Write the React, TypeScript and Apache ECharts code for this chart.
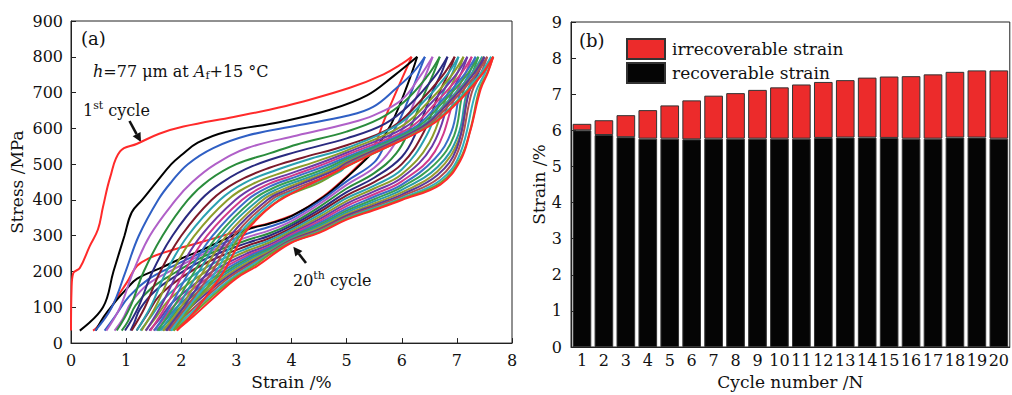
import React, { useEffect, useRef } from 'react';
import * as echarts from 'echarts';

// ---------- Panel (b) data ----------
const cycleLabels = ['1','2','3','4','5','6','7','8','9','10','11','12','13','14','15','16','17','18','19','20'];
const recoverableStrain = [6.00,5.87,5.81,5.77,5.77,5.75,5.77,5.77,5.77,5.77,5.77,5.79,5.80,5.80,5.79,5.77,5.77,5.80,5.80,5.77];
const irrecoverableStrain = [0.18,0.41,0.61,0.79,0.92,1.08,1.19,1.26,1.35,1.42,1.50,1.55,1.59,1.66,1.70,1.73,1.78,1.82,1.86,1.89];

// ---------- Panel (a) data: stress-strain loops, [strain %, stress MPa] ----------
const cycleColors = ['#ff2a2a','#000000','#2f5fc4','#b060c8','#2a8c3c','#2a2a80','#7d1a2a','#2aa0b0','#8c9c2a','#6a3aa8','#d03a8a','#3a70c8','#3aa050','#2a9aa8','#9a9a30','#5a3a9a','#b05050','#30b0c0','#70a030','#ff2a2a'];

const loadingBranches = [
  [[0,35],[0.01,150],[0.04,195],[0.16,210],[0.34,271],[0.49,318],[0.58,380],[0.71,463],[0.89,536],[1.2,557],[1.6,585],[2.04,605],[2.95,632],[3.6,652],[4.16,673],[5.07,714],[5.67,751],[6.0,780],[6.18,800]],
  [[0.16,35],[0.58,100],[0.77,200],[0.97,300],[1.1,365],[1.29,400],[1.55,450],[1.82,500],[2.0,525],[2.3,560],[2.8,590],[3.8,618],[4.7,652],[5.37,692],[5.85,746],[6.28,800]],
  [[0.44,35],[0.74,100],[0.99,200],[1.23,300],[1.58,400],[1.82,450],[2.12,500],[2.58,545],[3.2,580],[4.1,608],[5.01,635],[5.48,660],[5.9,712],[6.2,755],[6.42,800]],
  [[0.64,35],[0.89,100],[1.13,200],[1.43,300],[1.9,400],[2.2,450],[2.62,500],[3.2,545],[4.1,580],[5.01,613],[5.5,637],[6.0,680],[6.33,745],[6.56,800]],
  [[0.83,35],[1.07,100],[1.32,200],[1.66,300],[2.12,400],[2.5,455],[3.0,500],[3.6,530],[4.1,555],[5.0,591],[5.6,627],[6.05,675],[6.46,745],[6.69,800]],
  [[0.98,35],[1.22,100],[1.48,200],[1.84,300],[2.35,400],[2.75,450],[3.3,495],[4.1,535],[5.0,572],[5.7,613],[6.17,670],[6.6,745],[6.83,800]],
  [[1.10,35],[1.34,100],[1.62,200],[2.0,300],[2.55,400],[3.0,450],[3.6,490],[4.2,518],[5.0,553],[5.82,603],[6.3,670],[6.73,745],[6.96,800]],
  [[1.19,35],[1.44,100],[1.73,200],[2.12,300],[2.7,400],[3.15,448],[3.75,485],[4.3,513],[5.0,545],[5.89,606],[6.37,670],[6.80,745],[7.03,800]],
  [[1.28,35],[1.53,100],[1.84,200],[2.24,300],[2.84,400],[3.3,445],[3.9,480],[4.4,505],[5.0,538],[5.98,604],[6.46,670],[6.89,745],[7.12,800]],
  [[1.36,35],[1.62,100],[1.95,200],[2.36,300],[2.98,400],[3.42,443],[4.0,475],[4.5,502],[5.0,532],[6.05,602],[6.53,670],[6.96,745],[7.19,800]],
  [[1.44,35],[1.71,100],[2.06,200],[2.47,300],[3.1,400],[3.52,440],[4.05,470],[4.55,498],[5.0,526],[6.13,600],[6.61,670],[7.04,745],[7.27,800]],
  [[1.51,35],[1.79,100],[2.15,200],[2.57,300],[3.2,400],[3.6,437],[4.1,466],[4.6,494],[5.0,520],[6.2,600],[6.68,670],[7.11,745],[7.34,800]],
  [[1.57,35],[1.86,100],[2.24,200],[2.66,300],[3.3,400],[3.68,434],[4.2,464],[4.65,490],[5.0,515],[6.25,600],[6.73,670],[7.16,745],[7.39,800]],
  [[1.62,35],[1.93,100],[2.32,200],[2.74,300],[3.4,400],[3.75,431],[4.25,460],[4.7,487],[5.0,510],[6.32,602],[6.8,670],[7.23,745],[7.46,800]],
  [[1.67,35],[1.99,100],[2.40,200],[2.82,300],[3.48,400],[3.82,428],[4.3,457],[4.75,485],[5.0,506],[6.35,602],[6.83,670],[7.26,745],[7.49,800]],
  [[1.72,35],[2.04,100],[2.48,200],[2.89,300],[3.56,400],[3.88,426],[4.35,455],[4.8,484],[5.0,503],[6.36,603],[6.84,670],[7.27,745],[7.50,800]],
  [[1.77,35],[2.09,100],[2.56,200],[2.96,300],[3.63,400],[3.93,423],[4.4,452],[4.85,482],[5.0,499],[6.41,603],[6.89,670],[7.32,745],[7.55,800]],
  [[1.81,35],[2.13,100],[2.63,200],[3.02,300],[3.7,400],[3.98,421],[4.45,450],[4.9,481],[5.0,496],[6.48,606],[6.96,670],[7.39,745],[7.62,800]],
  [[1.86,35],[2.17,100],[2.70,200],[3.07,300],[3.77,400],[4.03,419],[4.55,452],[5.0,493],[6.5,608],[6.98,670],[7.42,745],[7.66,800]],
  [[1.92,35],[2.2,80],[2.5,140],[2.76,197],[2.95,250],[3.12,300],[3.3,334],[3.61,380],[3.98,416],[4.7,471],[5.48,530],[6.52,608],[7.0,670],[7.43,745],[7.66,800]],
];

const unloadingBranches = [
  [[6.18,800],[5.95,720],[5.7,630],[5.45,535],[5.2,495],[5.0,465],[4.58,410],[4.1,363],[3.61,336],[3.25,322],[2.71,298],[2.29,279],[1.67,252],[1.43,238],[1.2,216],[1.02,171],[0.83,126],[0.65,79],[0.47,44],[0.40,35]],
  [[6.28,800],[6.1,720],[5.83,619],[5.6,560],[5.43,526],[5.0,463],[4.58,408],[4.0,355],[3.61,334],[3.25,320],[2.9,298],[2.4,262],[1.98,235],[1.6,208],[1.2,180],[1.0,150],[0.8,115],[0.6,75],[0.45,35]],
  [[6.42,800],[6.32,760],[6.2,712],[5.95,620],[5.7,555],[5.5,505],[5.0,452],[4.5,395],[4.0,348],[3.6,325],[3.2,306],[2.5,262],[1.85,215],[1.4,178],[1.05,130],[0.8,75],[0.61,35]],
  [[6.56,800],[6.45,755],[6.3,700],[6.05,610],[5.8,540],[5.5,490],[5.0,442],[4.5,388],[4.0,341],[3.6,315],[3.2,296],[2.45,252],[1.85,205],[1.4,165],[1.1,115],[0.93,65],[0.79,35]],
  [[6.69,800],[6.58,755],[6.42,700],[6.15,600],[5.9,530],[5.5,475],[5.0,432],[4.5,380],[4.0,334],[3.6,307],[3.2,288],[2.45,245],[1.9,198],[1.47,155],[1.17,105],[1.03,60],[0.92,35]],
  [[6.83,800],[6.72,755],[6.55,700],[6.28,595],[6.0,520],[5.5,462],[5.0,422],[4.5,372],[4.0,328],[3.6,300],[3.2,280],[2.45,236],[1.93,190],[1.52,145],[1.25,95],[1.15,58],[1.08,35]],
  [[6.96,800],[6.85,755],[6.68,700],[6.4,590],[6.0,500],[5.5,450],[5.0,413],[4.5,365],[4.0,322],[3.6,293],[3.2,272],[2.5,228],[2.0,183],[1.6,132],[1.38,80],[1.19,35]],
  [[7.03,800],[6.92,755],[6.75,700],[6.45,580],[6.0,485],[5.5,440],[5.0,405],[4.5,358],[4.0,317],[3.6,287],[3.2,265],[2.55,220],[2.08,175],[1.69,124],[1.46,76],[1.26,35]],
  [[7.12,800],[7.01,755],[6.84,700],[6.5,560],[6.0,472],[5.5,432],[5.0,397],[4.5,352],[4.0,312],[3.6,281],[3.2,258],[2.6,214],[2.15,168],[1.76,118],[1.54,72],[1.35,35]],
  [[7.19,800],[7.08,755],[6.91,700],[6.55,550],[6.0,462],[5.5,424],[5.0,390],[4.5,346],[4.0,307],[3.6,275],[3.2,251],[2.65,208],[2.22,162],[1.83,112],[1.62,70],[1.42,35]],
  [[7.27,800],[7.16,755],[6.99,700],[6.6,535],[6.0,452],[5.5,416],[5.0,383],[4.5,340],[4.0,303],[3.6,270],[3.2,245],[2.7,204],[2.27,158],[1.89,108],[1.68,68],[1.50,35]],
  [[7.34,800],[7.23,755],[7.06,700],[6.9,590],[6.6,515],[6.0,443],[5.5,409],[5.0,376],[4.5,335],[4.0,299],[3.6,267],[3.24,243],[2.74,200],[2.32,154],[1.94,104],[1.72,65],[1.55,35]],
  [[7.39,800],[7.28,755],[7.11,700],[6.95,580],[6.6,500],[6.0,436],[5.5,402],[5.0,370],[4.5,330],[4.0,296],[3.6,263],[3.24,238],[2.77,196],[2.36,150],[1.98,100],[1.77,62],[1.59,35]],
  [[7.46,800],[7.35,755],[7.18,700],[7.02,580],[6.65,492],[6.0,428],[5.5,396],[5.0,365],[4.5,326],[4.0,293],[3.6,260],[3.27,236],[2.8,193],[2.4,146],[2.02,96],[1.81,60],[1.66,35]],
  [[7.49,800],[7.38,755],[7.21,700],[7.05,575],[6.65,480],[6.0,421],[5.5,390],[5.0,360],[4.5,322],[4.0,290],[3.6,256],[3.27,231],[2.83,190],[2.43,142],[2.06,93],[1.84,58],[1.69,35]],
  [[7.50,800],[7.39,755],[7.22,700],[7.0,545],[6.65,470],[6.0,415],[5.5,385],[5.0,356],[4.5,318],[4.0,288],[3.6,253],[3.27,226],[2.85,186],[2.46,139],[2.1,90],[1.88,56],[1.74,35]],
  [[7.55,800],[7.44,755],[7.27,700],[7.03,540],[6.68,462],[6.0,410],[5.5,381],[5.0,352],[4.5,315],[4.0,286],[3.6,251],[3.3,224],[2.88,184],[2.5,136],[2.14,86],[1.92,54],[1.79,35]],
  [[7.62,800],[7.51,755],[7.34,700],[7.06,530],[6.7,455],[6.0,405],[5.5,377],[5.0,349],[4.5,312],[4.0,284],[3.6,249],[3.3,220],[2.92,182],[2.53,133],[2.17,83],[1.95,52],[1.82,35]],
  [[7.66,800],[7.55,755],[7.41,710],[7.25,600],[7.06,515],[6.7,448],[6.0,402],[5.5,374],[5.0,347],[4.5,310],[4.0,282],[3.6,247],[3.33,217],[2.95,180],[2.56,130],[2.2,80],[1.98,50],[1.86,35]],
  [[7.66,800],[7.56,755],[7.43,709],[7.24,591],[7.06,509],[6.7,443],[6.0,400],[5.5,372],[5.0,345],[4.5,308],[3.98,279],[3.38,216],[3.0,181],[2.6,128],[2.22,75],[1.98,44],[1.92,35]],
];

const FONT = 'DejaVu Serif';

export default function App() {
  const ref = useRef<HTMLDivElement>(null);
  useEffect(() => {
    const chart = echarts.init(ref.current as HTMLDivElement, null, { renderer: 'svg' });

    const loopSeries: any[] = [];
    for (let i = 0; i < loadingBranches.length; i++) {
      [loadingBranches[i], unloadingBranches[i]].forEach((branch, k) => {
        loopSeries.push({
          name: 'cycle ' + (i + 1) + (k === 0 ? ' loading' : ' unloading'),
          type: 'line',
          xAxisIndex: 0,
          yAxisIndex: 0,
          data: branch,
          showSymbol: false,
          symbol: 'none',
          smooth: 0.4,
          silent: true,
          lineStyle: { color: cycleColors[i], width: 2 },
          z: 2 + i,
        });
      });
    }

    const axisCommon = {
      axisLine: { show: true, lineStyle: { color: '#222', width: 1 } },
      splitLine: { show: false },
      axisLabel: { color: '#111', fontSize: 16, fontFamily: FONT },
      nameTextStyle: { color: '#111', fontSize: 17, fontFamily: FONT },
      nameLocation: 'middle' as const,
    };

    const sub = { fontSize: 11, fontFamily: FONT, verticalAlign: 'bottom', lineHeight: 20, fill: '#111' };
    const sup = { fontSize: 11, fontFamily: FONT, verticalAlign: 'top', lineHeight: 20, fill: '#111' };
    const norm = { fontSize: 16, fontFamily: FONT, lineHeight: 20, fill: '#111' };
    const ital = { fontSize: 16, fontFamily: FONT, fontStyle: 'italic', lineHeight: 20, fill: '#111' };

    chart.setOption({
      animation: false,
      textStyle: { fontFamily: FONT },
      grid: [
        { left: 71, top: 21, width: 441, height: 328, show: true, borderColor: '#222', borderWidth: 1, backgroundColor: 'transparent' },
        { left: 571, top: 22, width: 439, height: 325, show: true, borderColor: '#222', borderWidth: 1, backgroundColor: 'transparent' },
      ],
      xAxis: [
        {
          ...axisCommon, type: 'value', gridIndex: 0, min: 0, max: 8, interval: 1,
          axisTick: { show: true, inside: true, length: 5, lineStyle: { color: '#222' } },
          axisLabel: { ...axisCommon.axisLabel, margin: 9 },
          name: 'Strain /%', nameGap: 28,
        },
        {
          ...axisCommon, type: 'category', gridIndex: 1, data: cycleLabels,
          axisTick: { show: false },
          axisLabel: { ...axisCommon.axisLabel, margin: 5, interval: 0 },
          name: 'Cycle number /N', nameGap: 26,
        },
      ],
      yAxis: [
        {
          ...axisCommon, type: 'value', gridIndex: 0, min: 0, max: 900, interval: 100,
          axisTick: { show: true, inside: true, length: 5, lineStyle: { color: '#222' } },
          axisLabel: { ...axisCommon.axisLabel, margin: 8 },
          name: 'Stress /MPa', nameGap: 46,
        },
        {
          ...axisCommon, type: 'value', gridIndex: 1, min: 0, max: 9, interval: 1,
          axisTick: { show: true, inside: true, length: 5, lineStyle: { color: '#222' } },
          axisLabel: { ...axisCommon.axisLabel, margin: 9 },
          name: 'Strain /%', nameGap: 20,
        },
      ],
      legend: {
        data: ['irrecoverable strain', 'recoverable strain'],
        orient: 'vertical',
        left: 621,
        top: 33,
        itemWidth: 38,
        itemHeight: 20,
        itemGap: 2,
        icon: 'rect',
        selectedMode: false,
        textStyle: { fontSize: 17, color: '#111', fontFamily: FONT, padding: [0, 0, 0, 2] },
      },
      series: [
        ...loopSeries,
        {
          name: 'recoverable strain', type: 'bar', xAxisIndex: 1, yAxisIndex: 1, stack: 'strain',
          data: recoverableStrain, barCategoryGap: '15%',
          itemStyle: { color: '#050505', borderColor: '#333', borderWidth: 1 },
        },
        {
          name: 'irrecoverable strain', type: 'bar', xAxisIndex: 1, yAxisIndex: 1, stack: 'strain',
          data: irrecoverableStrain, barCategoryGap: '15%',
          itemStyle: { color: '#ec2b2b', borderColor: '#333', borderWidth: 1 },
        },
      ],
      graphic: [
        { type: 'text', x: 81, y: 38, style: { text: '(a)', font: '18px "DejaVu Serif"', fill: '#111', verticalAlign: 'middle' } },
        { type: 'text', x: 579, y: 40, style: { text: '(b)', font: '18px "DejaVu Serif"', fill: '#111', verticalAlign: 'middle' } },
        {
          type: 'text', x: 93, y: 71,
          style: {
            text: '{i|h}{n|=77 μm at }{i|A}{s|f}{n|+15 °C}',
            verticalAlign: 'middle',
            rich: { i: ital, n: norm, s: sub },
          },
        },
        {
          type: 'text', x: 83, y: 110,
          style: { text: '{n|1}{p|st}{n| cycle}', verticalAlign: 'middle', rich: { n: norm, p: sup } },
        },
        {
          type: 'text', x: 293, y: 280,
          style: { text: '{n|20}{p|th}{n| cycle}', verticalAlign: 'middle', rich: { n: norm, p: sup } },
        },
        { type: 'line', shape: { x1: 129.5, y1: 121, x2: 136.6, y2: 134.1 }, style: { stroke: '#111', lineWidth: 2.6 } },
        { type: 'polygon', shape: { points: [[141, 142], [132.7, 136.3], [140.5, 131.9]] }, style: { fill: '#111' } },
        { type: 'line', shape: { x1: 306, y1: 263, x2: 298.8, y2: 253.8 }, style: { stroke: '#111', lineWidth: 2.6 } },
        { type: 'polygon', shape: { points: [[293.3, 246.7], [302.4, 251.0], [295.3, 256.6]] }, style: { fill: '#111' } },
      ],
    });
    return () => chart.dispose();
  }, []);
  return <div ref={ref} style={{ position: 'fixed', left: 0, top: 0, width: 1012, height: 395, background: '#fff' }} />;
}
